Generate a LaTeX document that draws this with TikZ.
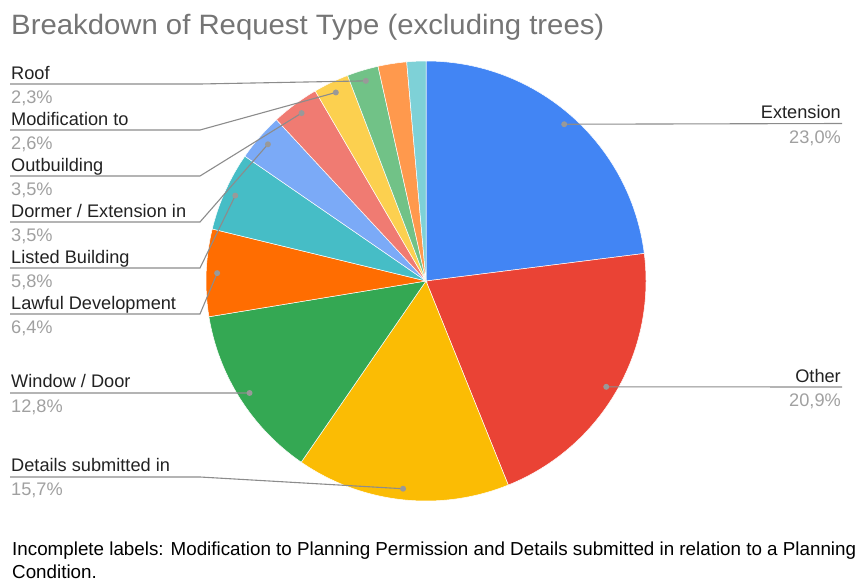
\documentclass[tikz,border=0pt]{standalone}
\usepackage{fontspec}
\setmainfont{Liberation Sans}
\definecolor{cA}{HTML}{4285F4}
\definecolor{cB}{HTML}{EA4335}
\definecolor{cC}{HTML}{FBBC04}
\definecolor{cD}{HTML}{34A853}
\definecolor{cE}{HTML}{FF6D01}
\definecolor{cF}{HTML}{46BDC6}
\definecolor{cG}{HTML}{7BAAF7}
\definecolor{cH}{HTML}{F07B72}
\definecolor{cI}{HTML}{FCD04F}
\definecolor{cJ}{HTML}{71C287}
\definecolor{cK}{HTML}{FF994D}
\definecolor{cL}{HTML}{7ED1D7}
\definecolor{labc}{HTML}{222222}
\definecolor{pctc}{HTML}{A0A0A0}
\definecolor{titlec}{HTML}{757575}
\definecolor{leadc}{HTML}{8C8C8C}
\definecolor{dotcol}{HTML}{999999}
\begin{document}
\begin{tikzpicture}[x=1pt,y=1pt,
  lbl/.style={inner sep=0pt,anchor=base west,font=\fontsize{18.2}{20}\selectfont,text=labc},
  lblr/.style={lbl,anchor=base east},
  pct/.style={lbl,text=pctc},
  pctr/.style={lblr,text=pctc},
  lead/.style={draw=leadc,line width=1.1pt},
  leaddot/.style={circle,fill=dotcol,inner sep=0pt,minimum size=6pt},
  slice/.style={draw=white,line width=0.5pt},
  notetext/.style={inner sep=0pt,anchor=base west,text=black,font=\fontsize{18.8}{22}\selectfont}]
\useasboundingbox (0,0) rectangle (862,-581);
\coordinate (C) at (426,-281);
% slices
\filldraw[slice,fill=cA] (C) -- ++(90:220) arc (90:7.2:220) -- cycle;
\filldraw[slice,fill=cB] (C) -- ++(7.2:220) arc (7.2:-68.04:220) -- cycle;
\filldraw[slice,fill=cC] (C) -- ++(-68.04:220) arc (-68.04:-124.56:220) -- cycle;
\filldraw[slice,fill=cD] (C) -- ++(-124.56:220) arc (-124.56:-170.64:220) -- cycle;
\filldraw[slice,fill=cE] (C) -- ++(-170.64:220) arc (-170.64:-193.68:220) -- cycle;
\filldraw[slice,fill=cF] (C) -- ++(-193.68:220) arc (-193.68:-214.56:220) -- cycle;
\filldraw[slice,fill=cG] (C) -- ++(-214.56:220) arc (-214.56:-227.16:220) -- cycle;
\filldraw[slice,fill=cH] (C) -- ++(-227.16:220) arc (-227.16:-239.76:220) -- cycle;
\filldraw[slice,fill=cI] (C) -- ++(-239.76:220) arc (-239.76:-249.12:220) -- cycle;
\filldraw[slice,fill=cJ] (C) -- ++(-249.12:220) arc (-249.12:-257.4:220) -- cycle;
\filldraw[slice,fill=cK] (C) -- ++(-257.4:220) arc (-257.4:-264.96:220) -- cycle;
\filldraw[slice,fill=cL] (C) -- ++(-264.96:220) arc (-264.96:-270:220) -- cycle;
% dot positions
\path (C) ++(48.6:209) coordinate (dExt);
\path (C) ++(-30.42:209) coordinate (dOth);
\path (C) ++(-96.3:209) coordinate (dDet);
\path (C) ++(-147.6:209) coordinate (dWin);
\path (C) ++(-182.16:209) coordinate (dLaw);
\path (C) ++(-204.12:209) coordinate (dLis);
\path (C) ++(-220.86:209) coordinate (dDor);
\path (C) ++(-233.46:209) coordinate (dOut);
\path (C) ++(-244.44:209) coordinate (dMod);
\path (C) ++(-253.26:209) coordinate (dRoo);
% title
\node[inner sep=0pt,anchor=base west,text=titlec,font=\fontsize{28}{30}\selectfont] (title) at (11,-34) {\scalebox{1.047}[1]{Breakdown of Request Type (excluding trees)}};
% right labels
\node[lblr] (tExt) at (841,-118) {Extension};
\node[pctr] (pExt) at (841,-143) {23,0\%};
\coordinate (uExt) at (842,-123.5);
\node[lblr] (tOth) at (841,-382) {Other};
\node[pctr] (pOth) at (841,-406) {20,9\%};
\coordinate (uOth) at (842,-387);
% left labels
\node[lbl] (tRoo) at (11,-79) {Roof};
\node[pct] (pRoo) at (11,-103) {2,3\%};
\coordinate (uRooA) at (10,-84); \coordinate (uRooB) at (200,-84);
\node[lbl] (tMod) at (11,-125) {Modification to};
\node[pct] (pMod) at (11,-149) {2,6\%};
\coordinate (uModA) at (10,-130); \coordinate (uModB) at (200,-130);
\node[lbl] (tOut) at (11,-171) {Outbuilding};
\node[pct] (pOut) at (11,-195) {3,5\%};
\coordinate (uOutA) at (10,-176); \coordinate (uOutB) at (200,-176);
\node[lbl] (tDor) at (11,-217) {Dormer / Extension in};
\node[pct] (pDor) at (11,-241) {3,5\%};
\coordinate (uDorA) at (10,-222); \coordinate (uDorB) at (200,-222);
\node[lbl] (tLis) at (11,-263) {Listed Building};
\node[pct] (pLis) at (11,-287) {5,8\%};
\coordinate (uLisA) at (10,-268); \coordinate (uLisB) at (200,-268);
\node[lbl] (tLaw) at (11,-309) {Lawful Development};
\node[pct] (pLaw) at (11,-333) {6,4\%};
\coordinate (uLawA) at (10,-314); \coordinate (uLawB) at (200,-314);
\node[lbl] (tWin) at (11,-387) {Window / Door};
\node[pct] (pWin) at (11,-412) {12,8\%};
\coordinate (uWinA) at (10,-393);
\node[lbl] (tDet) at (11,-471) {Details submitted in};
\node[pct] (pDet) at (11,-495) {15,7\%};
\coordinate (uDetA) at (10,-477); \coordinate (uDetB) at (200,-477);
% leader lines
\draw[lead] (uExt) -- (dExt);
\draw[lead] (uOth) -- (dOth);
\draw[lead] (uRooA) -- (uRooB) -- (dRoo);
\draw[lead] (uModA) -- (uModB) -- (dMod);
\draw[lead] (uOutA) -- (uOutB) -- (dOut);
\draw[lead] (uDorA) -- (uDorB) -- (dDor);
\draw[lead] (uLisA) -- (uLisB) -- (dLis);
\draw[lead] (uLawA) -- (uLawB) -- (dLaw);
\draw[lead] (uWinA) -- (dWin);
\draw[lead] (uDetA) -- (uDetB) -- (dDet);
% dots
\foreach \d in {dExt,dOth,dDet,dWin,dLaw,dLis,dDor,dOut,dMod,dRoo}
  \node[leaddot] at (\d) {};
% note
\node[notetext] (note1) at (12,-555) {Incomplete labels: Modification to Planning Permission and Details submitted in relation to a Planning};
\node[notetext] (note2) at (12,-578) {Condition.};
\end{tikzpicture}
\end{document}
